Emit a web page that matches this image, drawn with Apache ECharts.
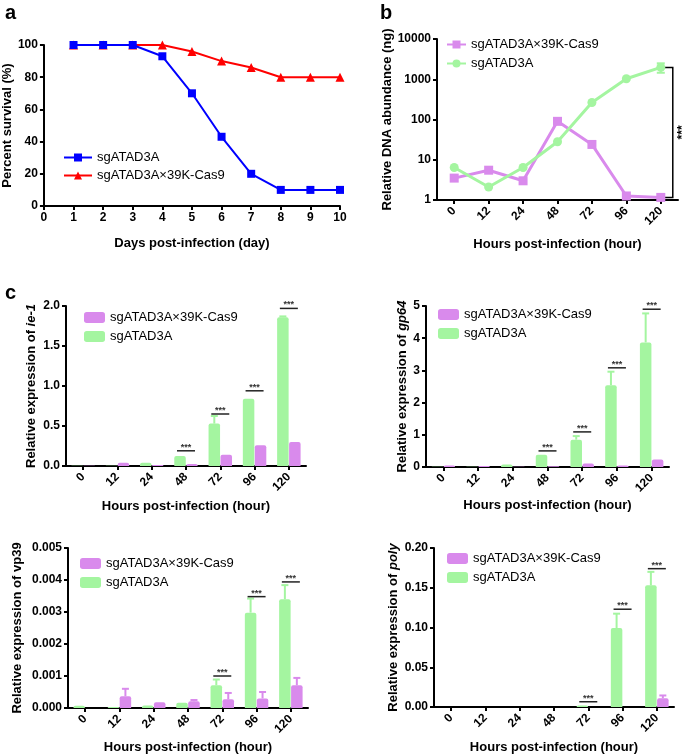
<!DOCTYPE html>
<html>
<head>
<meta charset="utf-8">
<script src="https://cdn.jsdelivr.net/npm/echarts@6/dist/echarts.min.js"></script>
<style>
html,body{margin:0;padding:0;background:#fff}
#box{width:685px;height:755px}
</style>
</head>
<body>
<div id="box"></div>
<script>
// panel a - survival
const days = [1, 2, 3, 4, 5, 6, 7, 8, 9, 10]
const survivalKO = [100, 100, 100, 93, 70, 43, 20, 10, 10, 10]
const survivalCas9 = [100, 100, 100, 100, 96, 90, 86, 80, 80, 80]

// panel b - DNA abundance (log)
const hours = ['0', '12', '24', '48', '72', '96', '120']
const dnaCas9 = [3.5, 5.5, 3.0, 90, 24, 1.26, 1.16]
const dnaKO = [6.4, 2.1, 6.4, 28, 265, 1030, 1970]
const dnaKOErr = [0, 0, 0, 0, 0, 0, 520]

// panel c - relative expression
const ie1KO = [0.002, 0.004, 0.04, 0.125, 0.53, 0.84, 1.86]
const ie1KOErr = [0, 0, 0, 0, 0.095, 0, 0.01]
const ie1Cas9 = [0.002, 0.04, 0.012, 0.025, 0.14, 0.26, 0.30]
const ie1Cas9Err = [0, 0, 0, 0, 0, 0, 0]
const ie1Sig = [null, null, null, 0.19, 0.65, 0.94, 1.97]

const gp64KO = [0.01, 0.005, 0.08, 0.38, 0.85, 2.54, 3.87]
const gp64KOErr = [0, 0, 0, 0, 0.11, 0.42, 0.9]
const gp64Cas9 = [0.05, 0.03, 0.005, 0.02, 0.11, 0.05, 0.23]
const gp64Cas9Err = [0, 0, 0, 0, 0, 0, 0]
const gp64Sig = [null, null, null, 0.5, 1.09, 3.08, 4.9]

const vp39KO = [0.00007, 0.00003, 0.00008, 0.000165, 0.00071, 0.00298, 0.0034]
const vp39KOErr = [0, 0, 0, 0, 0.00018, 0.00044, 0.00044]
const vp39Cas9 = [0, 0.00037, 0.00018, 0.00021, 0.00027, 0.0003, 0.00071]
const vp39Cas9Err = [0, 0.00023, 0, 0.00004, 0.0002, 0.0002, 0.00023]
const vp39Sig = [null, null, null, null, 0.001, 0.00348, 0.00394]

const polyKO = [0, 0, 0, 0, 0.002, 0.0994, 0.153]
const polyKOErr = [0, 0, 0, 0, 0, 0.018, 0.017]
const polyCas9 = [0, 0, 0, 0, 0, 0, 0.011]
const polyCas9Err = [0, 0, 0, 0, 0, 0, 0.0035]
const polySig = [null, null, null, null, 0.0066, 0.123, 0.174]

const FONT = 'Liberation Sans, Arial, sans-serif'
const GREEN = '#a4f5a0'
const PURPLE = '#d98aec'
const BAR_W = 11.5
const BAR_GAP = 0.04

const box = document.getElementById('box')
const myChart = echarts.init(box)

const axisBase = {
  axisLine: {show: true, lineStyle: {color: '#000', width: 2}},
  axisTick: {show: true, length: 4, lineStyle: {color: '#000', width: 2}},
  splitLine: {show: false},
  axisLabel: {color: '#000', fontWeight: 'bold', fontSize: 12, fontFamily: FONT, margin: 6},
  nameLocation: 'middle',
  nameTextStyle: {color: '#000', fontWeight: 'bold', fontSize: 13, fontFamily: FONT,
    rich: {i: {fontStyle: 'italic', fontWeight: 'bold', fontSize: 13, fontFamily: FONT, color: '#000'}}}
}

function hourAxis(gi, gap) {
  return Object.assign({}, axisBase, {
    gridIndex: gi, type: 'category', data: hours, boundaryGap: true,
    name: 'Hours post-infection (hour)', nameGap: gap,
    axisTick: {show: true, alignWithLabel: true, length: 4, lineStyle: {color: '#000', width: 2}},
    axisLabel: Object.assign({}, axisBase.axisLabel, {rotate: 45, interval: 0, margin: 9})
  })
}

function valAxis(gi, max, interval, digits, name, gap) {
  return Object.assign({}, axisBase, {
    gridIndex: gi, type: 'value', min: 0, max: max, interval: interval,
    name: name, nameGap: gap,
    axisLabel: Object.assign({}, axisBase.axisLabel, {formatter: v => v.toFixed(digits)})
  })
}

function errRender(dx, color) {
  return function (params, api) {
    const i = api.value(0), v = api.value(1), e = api.value(2)
    if (!e) return
    const p0 = api.coord([i, v]), p1 = api.coord([i, v + e])
    const x = p0[0] + dx
    return {type: 'group', children: [
      {type: 'line', shape: {x1: x, y1: p0[1], x2: x, y2: p1[1]}, style: {stroke: color, lineWidth: 2}},
      {type: 'line', shape: {x1: x - 3.5, y1: p1[1], x2: x + 3.5, y2: p1[1]}, style: {stroke: color, lineWidth: 2}}
    ]}
  }
}

function sigRender(params, api) {
  const p = api.coord([api.value(0), api.value(1)])
  return {type: 'group', children: [
    {type: 'line', shape: {x1: p[0] - 9, y1: p[1], x2: p[0] + 9, y2: p[1]}, style: {stroke: '#222', lineWidth: 1.5}},
    {type: 'text', x: p[0], y: p[1] + 1, style: {text: '***', fill: '#333', fontSize: 9, fontWeight: 'bold',
      fontFamily: FONT, align: 'center', verticalAlign: 'bottom'}}
  ]}
}

function barPanel(gi, ko, koErr, cas9, cas9Err, sig) {
  const off = BAR_W * (1 + BAR_GAP) / 2
  return [
    {name: 'c' + gi + '_ko', type: 'bar', xAxisIndex: gi, yAxisIndex: gi, data: ko,
      barWidth: BAR_W, barGap: (BAR_GAP * 100) + '%', itemStyle: {color: GREEN, borderRadius: [2, 2, 0, 0]}},
    {name: 'c' + gi + '_cas9', type: 'bar', xAxisIndex: gi, yAxisIndex: gi, data: cas9,
      barWidth: BAR_W, itemStyle: {color: PURPLE, borderRadius: [2, 2, 0, 0]}},
    {type: 'custom', xAxisIndex: gi, yAxisIndex: gi, renderItem: errRender(-off, GREEN),
      data: ko.map((v, i) => [i, v, koErr[i]]), encode: {x: 0, y: 1}, silent: true},
    {type: 'custom', xAxisIndex: gi, yAxisIndex: gi, renderItem: errRender(off, PURPLE),
      data: cas9.map((v, i) => [i, v, cas9Err[i]]), encode: {x: 0, y: 1}, silent: true},
    {type: 'custom', xAxisIndex: gi, yAxisIndex: gi, renderItem: sigRender,
      data: sig.map((s, i) => s == null ? null : [i, s]).filter(Boolean), encode: {x: 0, y: 1}, silent: true}
  ]
}

const legendText = n => n.endsWith('_ko') ? 'sgATAD3A' : 'sgATAD3A×39K-Cas9'

function barLegend(gi, left, top) {
  return {
    left: left, top: top, orient: 'vertical', itemWidth: 21, itemHeight: 11, itemGap: 6, itemTextGap: 7,
    icon: 'roundRect', data: ['c' + gi + '_cas9', 'c' + gi + '_ko'],
    textStyle: {color: '#000', fontSize: 13, fontFamily: FONT},
    formatter: legendText
  }
}

const option = {
  animation: false,
  title: [
    {text: 'a', left: 0, top: -2, textStyle: {fontSize: 20, fontWeight: 'bold', fontFamily: FONT, color: '#000'}},
    {text: 'b', left: 375, top: -2, textStyle: {fontSize: 20, fontWeight: 'bold', fontFamily: FONT, color: '#000'}},
    {text: 'c', left: 0, top: 278, textStyle: {fontSize: 20, fontWeight: 'bold', fontFamily: FONT, color: '#000'}}
  ],
  grid: [
    {left: 43, top: 45, width: 297, height: 161},
    {left: 437, top: 39, width: 241, height: 161},
    {left: 66, top: 306, width: 240, height: 160},
    {left: 426, top: 306, width: 243, height: 161},
    {left: 68, top: 548, width: 240, height: 161},
    {left: 434, top: 548, width: 240, height: 161}
  ],
  xAxis: [
    Object.assign({}, axisBase, {gridIndex: 0, type: 'value', min: 0, max: 10, interval: 1,
      name: 'Days post-infection (day)', nameGap: 31}),
    hourAxis(1, 38),
    hourAxis(2, 34),
    hourAxis(3, 32),
    hourAxis(4, 33),
    hourAxis(5, 34)
  ],
  yAxis: [
    valAxis(0, 100, 20, 0, 'Percent survival (%)', 27),
    Object.assign({}, axisBase, {gridIndex: 1, type: 'log', logBase: 10, min: 1, max: 10000,
      name: 'Relative DNA abundance (ng)', nameGap: 43,
      axisLabel: Object.assign({}, axisBase.axisLabel, {formatter: v => String(v)})}),
    valAxis(2, 2, 0.5, 1, 'Relative expression of {i|ie-1}', 28),
    valAxis(3, 5, 1, 0, 'Relative expression of {i|gp64}', 17),
    valAxis(4, 0.005, 0.001, 3, 'Relative expression of vp39', 44),
    valAxis(5, 0.2, 0.05, 2, 'Relative expression of {i|poly}', 34)
  ],
  legend: [
    {left: 58, top: 146, orient: 'vertical', itemWidth: 28, itemHeight: 10, itemGap: 5, itemTextGap: 5,
      data: ['a_ko', 'a_cas9'], textStyle: {color: '#000', fontSize: 13, fontFamily: FONT}, formatter: legendText},
    {left: 441, top: 33, orient: 'vertical', itemWidth: 19, itemHeight: 10, itemGap: 6, itemTextGap: 9,
      data: ['b_cas9', 'b_ko'], textStyle: {color: '#000', fontSize: 13, fontFamily: FONT}, formatter: legendText},
    barLegend(2, 79, 306),
    barLegend(3, 433, 303),
    barLegend(4, 75, 552),
    barLegend(5, 442, 547)
  ],
  series: [
    {name: 'a_cas9', type: 'line', xAxisIndex: 0, yAxisIndex: 0, data: days.map((d, i) => [d, survivalCas9[i]]),
      symbol: 'triangle', symbolSize: 9, lineStyle: {color: '#ff0000', width: 2}, itemStyle: {color: '#ff0000'}},
    {name: 'a_ko', type: 'line', xAxisIndex: 0, yAxisIndex: 0, data: days.map((d, i) => [d, survivalKO[i]]),
      symbol: 'rect', symbolSize: 8, lineStyle: {color: '#0000ff', width: 2}, itemStyle: {color: '#0000ff'}},
    {name: 'b_cas9', type: 'line', xAxisIndex: 1, yAxisIndex: 1, data: dnaCas9,
      symbol: 'rect', symbolSize: 9, lineStyle: {color: PURPLE, width: 3}, itemStyle: {color: PURPLE}},
    {name: 'b_ko', type: 'line', xAxisIndex: 1, yAxisIndex: 1, data: dnaKO,
      symbol: 'circle', symbolSize: 9, lineStyle: {color: GREEN, width: 3}, itemStyle: {color: GREEN}},
    {type: 'custom', xAxisIndex: 1, yAxisIndex: 1, silent: true, encode: {x: 0, y: 1},
      data: dnaKO.map((v, i) => [i, v, dnaKOErr[i]]),
      renderItem: function (params, api) {
        const i = api.value(0), v = api.value(1), e = api.value(2)
        if (!e) return
        const lo = api.coord([i, v - e]), hi = api.coord([i, v + e])
        return {type: 'group', children: [
          {type: 'line', shape: {x1: hi[0], y1: lo[1], x2: hi[0], y2: hi[1]}, style: {stroke: GREEN, lineWidth: 2}},
          {type: 'line', shape: {x1: hi[0] - 4, y1: hi[1], x2: hi[0] + 4, y2: hi[1]}, style: {stroke: GREEN, lineWidth: 2}},
          {type: 'line', shape: {x1: hi[0] - 4, y1: lo[1], x2: hi[0] + 4, y2: lo[1]}, style: {stroke: GREEN, lineWidth: 2}}
        ]}
      }},
    {type: 'custom', xAxisIndex: 1, yAxisIndex: 1, silent: true, encode: {x: 0, y: 1},
      data: [[6, dnaKO[6], dnaCas9[6]]],
      renderItem: function (params, api) {
        const top = api.coord([api.value(0), api.value(1)])
        const bot = api.coord([api.value(0), api.value(2)])
        const x = top[0] + 12
        return {type: 'group', children: [
          {type: 'polyline', shape: {points: [[x - 8, top[1]], [x, top[1]], [x, bot[1]], [x - 8, bot[1]]]},
            style: {stroke: '#000', lineWidth: 1.5, fill: null}},
          {type: 'text', x: x + 10, y: (top[1] + bot[1]) / 2, rotation: Math.PI / 2,
            style: {text: '***', fill: '#000', fontSize: 12, fontWeight: 'bold', fontFamily: FONT,
              align: 'center', verticalAlign: 'middle'}}
        ]}
      }}
  ]
    .concat(barPanel(2, ie1KO, ie1KOErr, ie1Cas9, ie1Cas9Err, ie1Sig))
    .concat(barPanel(3, gp64KO, gp64KOErr, gp64Cas9, gp64Cas9Err, gp64Sig))
    .concat(barPanel(4, vp39KO, vp39KOErr, vp39Cas9, vp39Cas9Err, vp39Sig))
    .concat(barPanel(5, polyKO, polyKOErr, polyCas9, polyCas9Err, polySig))
}

myChart.setOption(option)
</script>
</body>
</html>
